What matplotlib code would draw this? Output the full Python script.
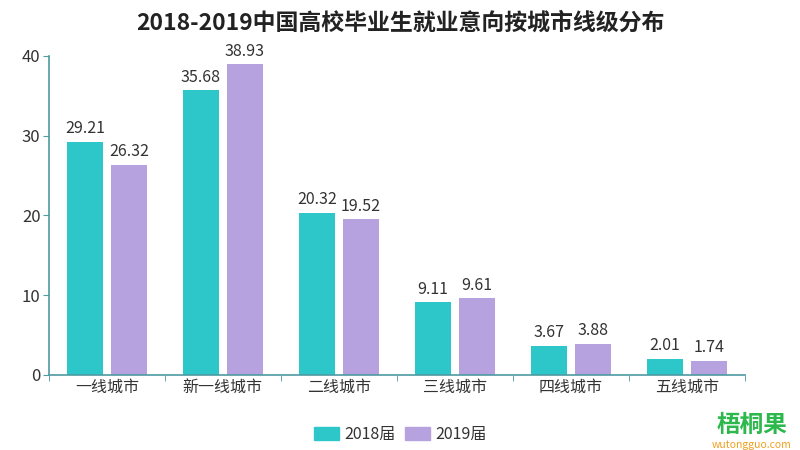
import matplotlib
matplotlib.use('Agg')
import matplotlib.pyplot as plt
import numpy as np
from matplotlib.patches import FancyBboxPatch

plt.rcParams['font.family'] = ['Noto Sans CJK SC', 'DejaVu Sans']

# 数据
cities = ['一线城市', '新一线城市', '二线城市', '三线城市', '四线城市', '五线城市']
y2018 = [29.21, 35.68, 20.32, 9.11, 3.67, 2.01]
y2019 = [26.32, 38.93, 19.52, 9.61, 3.88, 1.74]
series = ['2018届', '2019届']
colors = ['#2ec7c9', '#b6a2de']
axis_color = '#4f9aa3'
text_color = '#333333'

fig = plt.figure(figsize=(8, 4.5), dpi=100)
ax = fig.add_axes([0.061, 0.1667, 0.87, 0.709])

x = np.arange(len(cities))
w = 0.31
off = 0.19
b1 = ax.bar(x - off, y2018, w, color=colors[0])
b2 = ax.bar(x + off, y2019, w, color=colors[1])

for bars, vals in ((b1, y2018), (b2, y2019)):
    for b, v in zip(bars, vals):
        ax.text(b.get_x() + b.get_width() / 2, v + 0.6, f'{v:.2f}',
                ha='center', va='bottom', fontsize=11.5, color=text_color)

ax.set_xlim(-0.5, len(cities) - 0.5)
ax.set_ylim(0, 40)
ax.set_yticks([0, 10, 20, 30, 40])
ax.set_xticks(x)
ax.set_xticklabels(cities)
ax.set_xticks(np.arange(-0.5, len(cities), 1), minor=True)
ax.tick_params(axis='x', which='major', length=0, labelsize=11.5, colors=text_color, pad=3)
ax.tick_params(axis='x', which='minor', length=4, color=axis_color, direction='out')
ax.tick_params(axis='y', length=4, color=axis_color, labelsize=12, labelcolor=text_color, pad=2)

for s in ['top', 'right']:
    ax.spines[s].set_visible(False)
for s in ['left', 'bottom']:
    ax.spines[s].set_color(axis_color)
    ax.spines[s].set_linewidth(1.2)

fig.suptitle('2018-2019中国高校毕业生就业意向按城市线级分布', x=0.5, y=0.975,
             fontsize=16.5, fontweight='bold', color='#222222')

# 图例
handles = [FancyBboxPatch((0, 0), 1, 1, boxstyle='round,pad=0.1', color=c) for c in colors]
fig.legend(handles, series, loc='center', bbox_to_anchor=(0.5, 0.035), ncol=2,
           frameon=False, fontsize=11.5, handlelength=1.6, handleheight=0.9,
           handletextpad=0.3, columnspacing=0.6, labelcolor=text_color)

# 水印
fig.text(0.94, 0.03, '梧桐果', ha='center', va='bottom', fontsize=17,
         fontweight='bold', color='#2db84d')
fig.text(0.94, 0.0, 'wutongguo.com', ha='center', va='bottom', fontsize=7.5,
         color='#f0a020')

fig.savefig('out.png', dpi=100)
